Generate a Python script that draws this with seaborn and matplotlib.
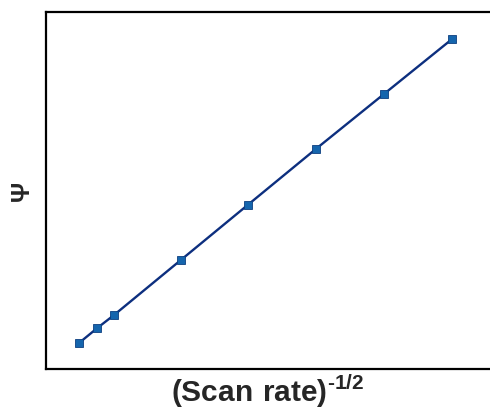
import numpy as np
import pandas as pd
import matplotlib
matplotlib.use("Agg")
import matplotlib.pyplot as plt
import seaborn as sns

# inverse square root of scan rate vs psi
scan_rate_inv_sqrt = [0.100, 0.127, 0.152, 0.251, 0.350, 0.451, 0.552, 0.653]
psi = [0.50, 0.636, 0.755, 1.255, 1.755, 2.264, 2.764, 3.264]

df = pd.DataFrame({"x": scan_rate_inv_sqrt, "psi": psi})

sns.set_style("white")
plt.rcParams["font.family"] = ["Liberation Sans", "DejaVu Sans"]
plt.rcParams["mathtext.fontset"] = "custom"
plt.rcParams["mathtext.rm"] = "Liberation Sans:bold"
plt.rcParams["mathtext.bf"] = "Liberation Sans:bold"

fig = plt.figure(figsize=(4.9, 4.09), dpi=100)
ax = fig.add_axes([46 / 490, 40 / 409, 444 / 490, 357 / 409])

sns.lineplot(data=df, x="x", y="psi", ax=ax, color="#0d2f7f", linewidth=1.7,
             marker="s", markersize=6, markerfacecolor="#1565ad",
             markeredgecolor="#0d3f80", markeredgewidth=0.6)

ax.set_xlim(0.0511, 0.709)
ax.set_ylim(0.264, 3.509)
ax.set_xticks([])
ax.set_yticks([])

for side in ["left", "bottom", "top"]:
    ax.spines[side].set_color("black")
    ax.spines[side].set_linewidth(1.6)
ax.spines["right"].set_visible(False)

ax.set_xlabel(r"$\mathrm{(Scan\ rate)}^{\text{-1/2}}$", fontsize=21.5, labelpad=3)
ax.set_ylabel("Ψ", fontsize=18, fontweight="bold", labelpad=9)

fig.savefig("out.png", dpi=100)
